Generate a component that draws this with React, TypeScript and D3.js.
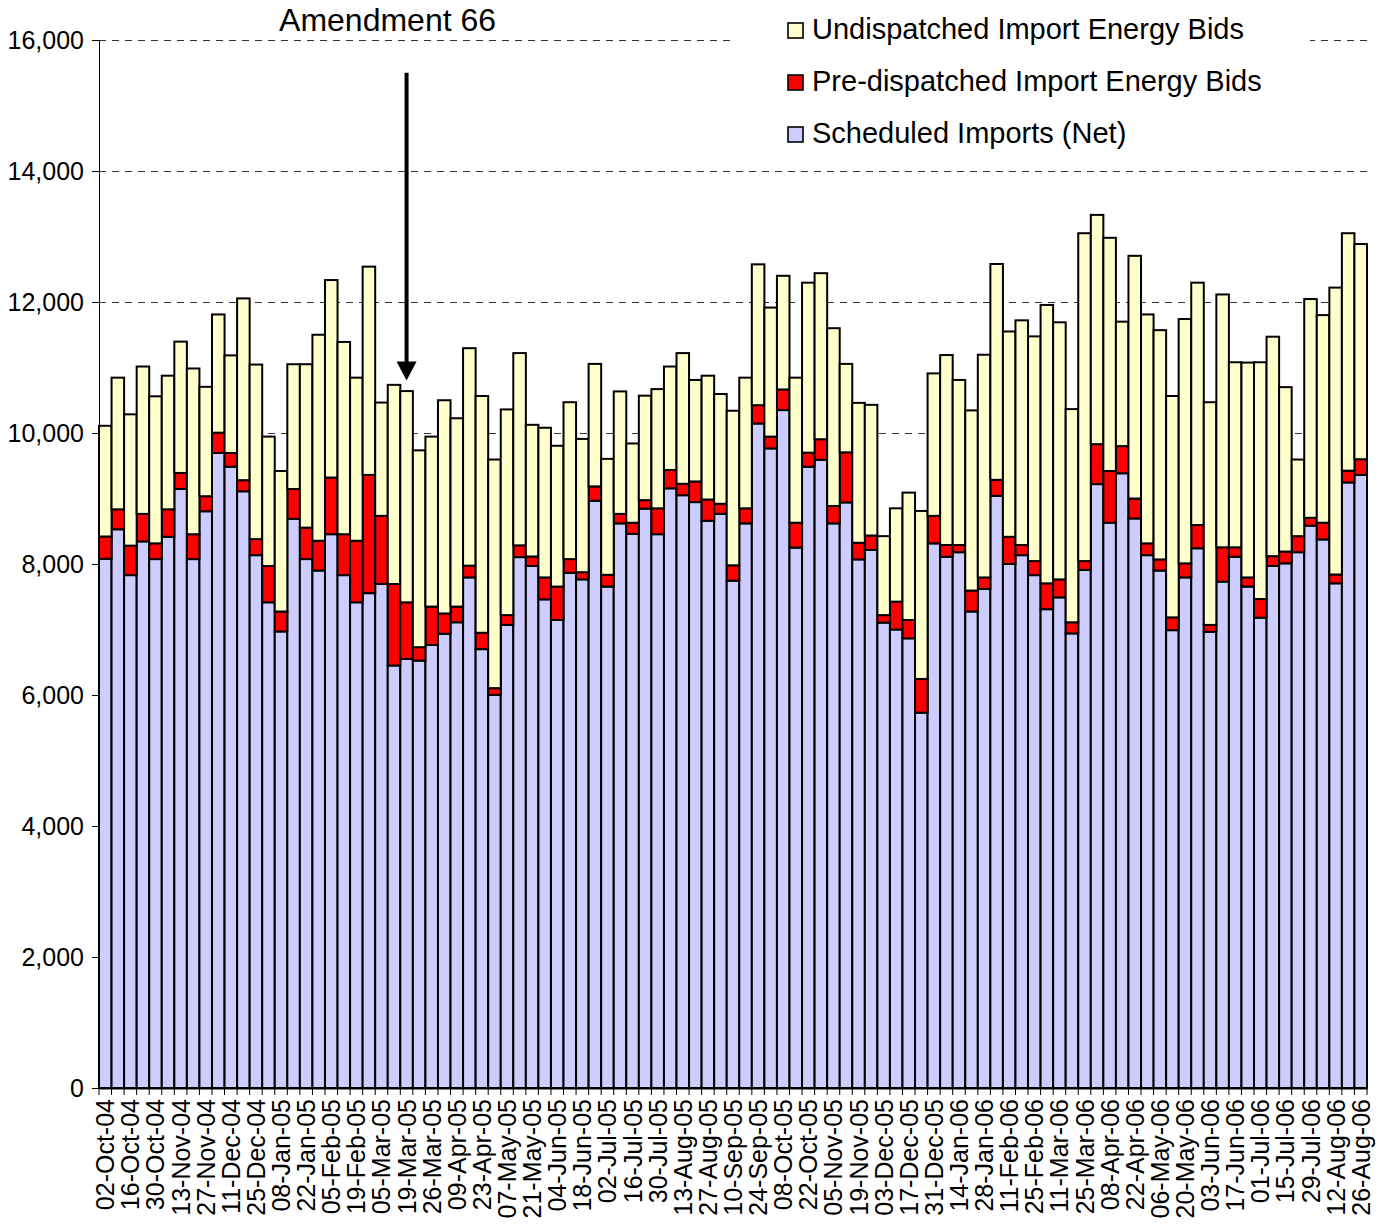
import * as d3 from 'd3';
import { useEffect, useRef } from 'react';

// weekly periods (only every other one is labelled on the axis)
const categories = [
  '02-Oct-04', '09-Oct-04', '16-Oct-04', '23-Oct-04', '30-Oct-04', '06-Nov-04', '13-Nov-04', '20-Nov-04', '27-Nov-04', '04-Dec-04',
  '11-Dec-04', '18-Dec-04', '25-Dec-04', '01-Jan-05', '08-Jan-05', '15-Jan-05', '22-Jan-05', '29-Jan-05', '05-Feb-05', '12-Feb-05',
  '19-Feb-05', '26-Feb-05', '05-Mar-05', '12-Mar-05', '19-Mar-05', '22-Mar-05', '26-Mar-05', '02-Apr-05', '09-Apr-05', '16-Apr-05',
  '23-Apr-05', '30-Apr-05', '07-May-05', '14-May-05', '21-May-05', '28-May-05', '04-Jun-05', '11-Jun-05', '18-Jun-05', '25-Jun-05',
  '02-Jul-05', '09-Jul-05', '16-Jul-05', '23-Jul-05', '30-Jul-05', '06-Aug-05', '13-Aug-05', '20-Aug-05', '27-Aug-05', '03-Sep-05',
  '10-Sep-05', '17-Sep-05', '24-Sep-05', '01-Oct-05', '08-Oct-05', '15-Oct-05', '22-Oct-05', '29-Oct-05', '05-Nov-05', '12-Nov-05',
  '19-Nov-05', '26-Nov-05', '03-Dec-05', '10-Dec-05', '17-Dec-05', '24-Dec-05', '31-Dec-05', '07-Jan-06', '14-Jan-06', '21-Jan-06',
  '28-Jan-06', '04-Feb-06', '11-Feb-06', '18-Feb-06', '25-Feb-06', '04-Mar-06', '11-Mar-06', '18-Mar-06', '25-Mar-06', '01-Apr-06',
  '08-Apr-06', '15-Apr-06', '22-Apr-06', '29-Apr-06', '06-May-06', '13-May-06', '20-May-06', '27-May-06', '03-Jun-06', '10-Jun-06',
  '17-Jun-06', '24-Jun-06', '01-Jul-06', '08-Jul-06', '15-Jul-06', '22-Jul-06', '29-Jul-06', '05-Aug-06', '12-Aug-06', '19-Aug-06',
  '26-Aug-06',
];

const scheduled = [
  8080, 8530, 7830, 8345, 8075, 8415, 9145, 8075, 8805, 9695,
  9485, 9110, 8135, 7415, 6970, 8690, 8075, 7900, 8455, 7830,
  7415, 7555, 7695, 6450, 6550, 6525, 6765, 6935, 7110, 7795,
  6700, 6000, 7070, 8105, 7970, 7460, 7145, 7865, 7765, 8965,
  7655, 8620, 8460, 8845, 8455, 9155, 9050, 8945, 8660, 8765,
  7745, 8620, 10145, 9765, 10350, 8250, 9485, 9590, 8620, 8940,
  8070, 8215, 7105, 7000, 6865, 5730, 8315, 8110, 8180, 7275,
  7620, 9040, 8000, 8135, 7830, 7310, 7490, 6940, 7910, 9220,
  8630, 9385, 8695, 8135, 7900, 6990, 7795, 8240, 6965, 7730,
  8110, 7655, 7180, 7970, 8010, 8180, 8585, 8375, 7705, 9245,
  9360,
];

const predispatched = [
  340, 305, 450, 420, 240, 420, 245, 380, 230, 310,
  210, 170, 245, 555, 305, 455, 480, 455, 865, 625,
  940, 1805, 1040, 1245, 865, 205, 585, 310, 240, 180,
  250, 105, 150, 180, 145, 335, 510, 210, 110, 220,
  180, 145, 170, 130, 395, 280, 175, 315, 325, 155,
  235, 230, 280, 180, 315, 380, 215, 315, 265, 765,
  255, 220, 115, 425, 280, 515, 420, 180, 110, 320,
  175, 245, 415, 155, 215, 395, 275, 170, 135, 610,
  790, 415, 305, 180, 170, 195, 215, 355, 105, 525,
  145, 140, 285, 150, 180, 245, 120, 255, 135, 180,
  240,
];

const undispatched = [
  1690, 2010, 2005, 2250, 2245, 2040, 2005, 2530, 1670, 1805,
  1490, 2775, 2665, 1975, 2145, 1905, 2495, 3145, 3015, 2935,
  2490, 3180, 1730, 3040, 3225, 3005, 2595, 3255, 2875, 3320,
  3615, 3490, 3140, 2935, 2010, 2285, 2150, 2395, 2035, 1870,
  1770, 1870, 1210, 1595, 1820, 1580, 1995, 1550, 1890, 1675,
  2360, 1995, 2150, 1970, 1735, 2215, 2595, 2535, 2715, 1350,
  2135, 1995, 1205, 1425, 1945, 2565, 2175, 2900, 2520, 2750,
  3400, 3295, 3135, 3430, 3430, 4250, 3925, 3255, 5005, 3500,
  3560, 1900, 3705, 3495, 3500, 3380, 3730, 3700, 3400, 3860,
  2825, 3280, 3615, 3350, 2510, 1170, 3340, 3170, 4380, 3625,
  3285,
];

const yTicks = [0, 2000, 4000, 6000, 8000, 10000, 12000, 14000, 16000];

const keys = ['scheduled', 'predispatched', 'undispatched'];
const colors = ['#CCCCFF', '#FF0000', '#FFFFCC'];
const legendItems = [
  { label: 'Undispatched Import Energy Bids', color: '#FFFFCC' },
  { label: 'Pre-dispatched Import Energy Bids', color: '#FF0000' },
  { label: 'Scheduled Imports (Net)', color: '#CCCCFF' },
];

const annotation = { label: 'Amendment 66', at: '19-Mar-05', from: 15500, to: 10800 };

const font = 'Liberation Sans, Arial, sans-serif';
const width = 1387;
const height = 1226;

const App = () => {
  const ref = useRef<SVGSVGElement | null>(null);
  const margin = { left: 99, right: 20, top: 40, bottom: 138 };

  useEffect(() => {
    if (!ref.current) return;
    const svg = d3.select(ref.current);
    svg.selectAll('*').remove();

    const data = categories.map((c, i) => ({
      week: c,
      scheduled: scheduled[i],
      predispatched: predispatched[i],
      undispatched: undispatched[i],
    }));

    const x = d3
      .scaleBand()
      .domain(categories)
      .range([margin.left, width - margin.right])
      .padding(0);

    const y = d3
      .scaleLinear()
      .domain([0, 16000])
      .range([height - margin.bottom, margin.top]);

    const color = d3.scaleOrdinal<string>().domain(keys).range(colors);

    // dashed gridlines
    svg
      .append('g')
      .attr('shape-rendering', 'crispEdges')
      .selectAll('line')
      .data(yTicks.filter((t) => t > 0))
      .join('line')
      .attr('x1', margin.left)
      .attr('x2', width - margin.right)
      .attr('y1', (d) => y(d) + 0.5)
      .attr('y2', (d) => y(d) + 0.5)
      .attr('stroke', '#333')
      .attr('stroke-width', 1)
      .attr('stroke-dasharray', '7,6');

    const series = d3.stack<any>().keys(keys)(data);

    svg
      .append('g')
      .selectAll('g')
      .data(series)
      .join('g')
      .attr('fill', (d) => color(d.key))
      .selectAll('rect')
      .data((d) => d)
      .join('rect')
      .attr('x', (d) => x(d.data.week)!)
      .attr('width', x.bandwidth())
      .attr('y', (d) => y(d[1]))
      .attr('height', (d) => y(d[0]) - y(d[1]))
      .attr('stroke', '#000')
      .attr('stroke-width', 2);

    // y axis
    const yAxis = svg
      .append('g')
      .attr('transform', `translate(${margin.left},0)`)
      .call(
        d3
          .axisLeft(y)
          .tickValues(yTicks)
          .tickFormat(d3.format(','))
          .tickSize(7)
          .tickSizeOuter(0)
          .tickPadding(8)
      );
    yAxis.selectAll('text').attr('font-family', font).attr('font-size', 25).attr('fill', '#000');
    yAxis.selectAll('line, path').attr('stroke', '#000');

    // x axis: boundary ticks and every other label
    const baseY = y(0);
    svg
      .append('g')
      .selectAll('line')
      .data([...categories.map((c) => x(c)!), width - margin.right])
      .join('line')
      .attr('x1', (d) => d)
      .attr('x2', (d) => d)
      .attr('y1', baseY)
      .attr('y2', baseY + 7)
      .attr('stroke', '#000');

    const xAxis = svg
      .append('g')
      .attr('transform', `translate(0,${baseY})`)
      .call(
        d3
          .axisBottom(x)
          .tickValues(categories.filter((_, i) => i % 2 === 0))
          .tickSize(0)
          .tickSizeOuter(0)
      );
    xAxis.select('.domain').attr('stroke', '#000').attr('stroke-width', 2);
    xAxis
      .selectAll('text')
      .attr('transform', 'rotate(-90)')
      .attr('x', -11)
      .attr('y', 0)
      .attr('dy', '0.36em')
      .attr('text-anchor', 'end')
      .attr('font-family', font)
      .attr('font-size', 25)
      .attr('fill', '#000');

    // legend
    const legend = svg.append('g');
    legend
      .append('rect')
      .attr('x', 735)
      .attr('y', 0)
      .attr('width', 575)
      .attr('height', 155)
      .attr('fill', '#fff');
    legendItems.forEach((item, i) => {
      const cy = 29 + i * 52;
      legend
        .append('rect')
        .attr('x', 788)
        .attr('y', cy - 6)
        .attr('width', 15)
        .attr('height', 15)
        .attr('fill', item.color)
        .attr('stroke', '#000')
        .attr('stroke-width', 1.6);
      legend
        .append('text')
        .attr('x', 812)
        .attr('y', cy)
        .attr('dy', '0.35em')
        .attr('font-family', font)
        .attr('font-size', 29)
        .attr('fill', '#000')
        .text(item.label);
    });

    // Amendment 66 arrow
    const ax = x(annotation.at)! + x.bandwidth() / 2;
    const tipY = y(annotation.to);
    svg
      .append('line')
      .attr('x1', ax)
      .attr('x2', ax)
      .attr('y1', y(annotation.from))
      .attr('y2', tipY - 14)
      .attr('stroke', '#000')
      .attr('stroke-width', 4);
    svg
      .append('path')
      .attr('d', `M${ax - 10},${tipY - 19}L${ax + 10},${tipY - 19}L${ax},${tipY}Z`)
      .attr('fill', '#000');
    svg
      .append('text')
      .attr('x', ax - 19)
      .attr('y', 31)
      .attr('text-anchor', 'middle')
      .attr('font-family', font)
      .attr('font-size', 32)
      .attr('fill', '#000')
      .text(annotation.label);
  }, []);

  return (
    <svg
      ref={ref}
      width={width}
      height={height}
      style={{ position: 'absolute', left: 0, top: 0, background: '#fff' }}
    />
  );
};

export default App;
